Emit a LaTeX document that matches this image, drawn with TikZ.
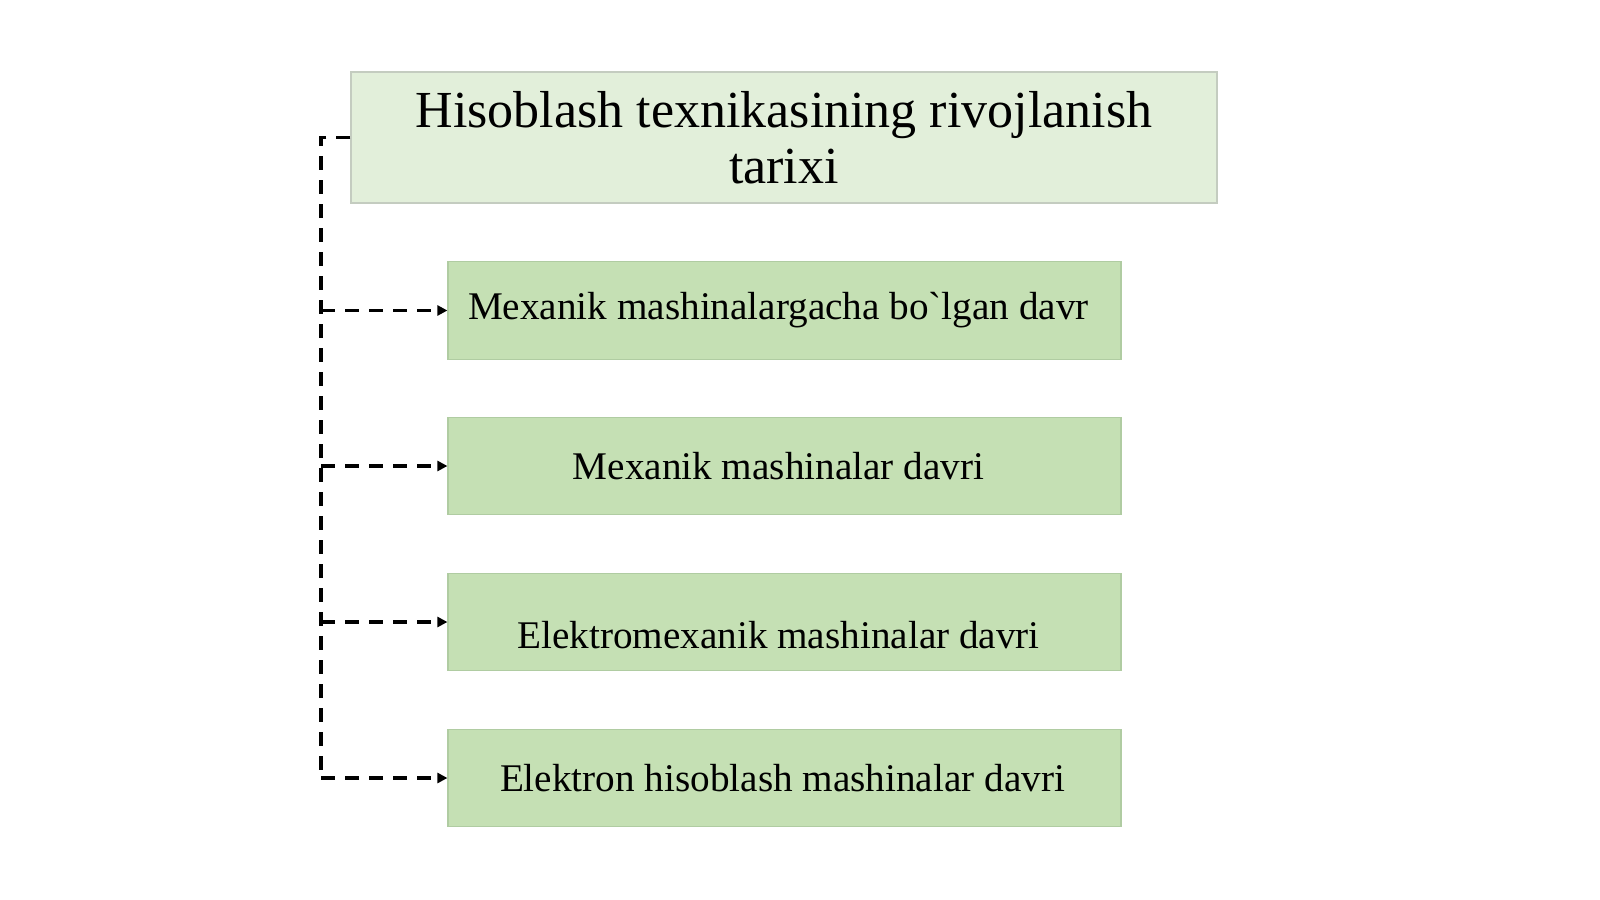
\documentclass[tikz,border=0pt]{standalone}
\usepackage{fontspec}
\setmainfont{Liberation Serif}
\newfontfamily\rawserif{Liberation Serif}
\usetikzlibrary{arrows.meta}
\definecolor{topfill}{HTML}{E2EFDA}
\definecolor{topline}{HTML}{C4CCC0}
\definecolor{kidfill}{HTML}{C5E0B4}
\definecolor{kidline}{HTML}{B0CCA2}
\tikzset{
  titlebox/.style={draw=topline, line width=0.6pt, fill=topfill, minimum width=433pt, minimum height=65.5pt, inner sep=0pt, align=center, font=\fontsize{26}{28}\selectfont},
  kidbox/.style={draw=kidline, line width=0.6pt, fill=kidfill, minimum width=336.5pt, minimum height=48.75pt, inner sep=0pt, align=center, font=\fontsize{19.6}{22}\selectfont},
  dashlink/.style={line width=1.6pt, dash pattern=on 7pt off 5pt, -{Triangle[length=5pt,width=5pt]}},
  dashplain/.style={line width=1.6pt, dash pattern=on 7pt off 5pt}
}
\begin{document}
\begin{tikzpicture}[x=0.5pt,y=-0.5pt]
\useasboundingbox (0,0) rectangle (1600,899);
\node[titlebox] (t) at (784,137.5) {Hisoblash texnikasining rivojlanish\\tarixi};
\node[kidbox] (a) at (784.5,310.5) {\hspace*{-6pt}Mexanik mashinalargacha bo{\rawserif`}lgan davr};
\node[kidbox] (b) at (784.5,466) {\hspace*{-6pt}Mexanik mashinalar davri};
\node[kidbox] (c) at (784.5,622) {\hspace*{-6pt}\raisebox{-13pt}[0pt][0pt]{Elektromexanik mashinalar davri}};
\node[kidbox] (d) at (784.5,778) {\hspace*{-2pt}Elektron hisoblash mashinalar davri};
\coordinate (top) at (321,137.5);
\coordinate (ya) at (321,310.5);
\coordinate (yb) at (321,466);
\coordinate (yc) at (321,622);
\coordinate (yd) at (321,778);
\draw[dashplain] (t.west) -- (top) -- (yd);
\draw[dashlink] (ya) -- (a.west);
\draw[dashlink] (yb) -- (b.west);
\draw[dashlink] (yc) -- (c.west);
\draw[dashlink] (yd) -- (d.west);
\end{tikzpicture}
\end{document}
